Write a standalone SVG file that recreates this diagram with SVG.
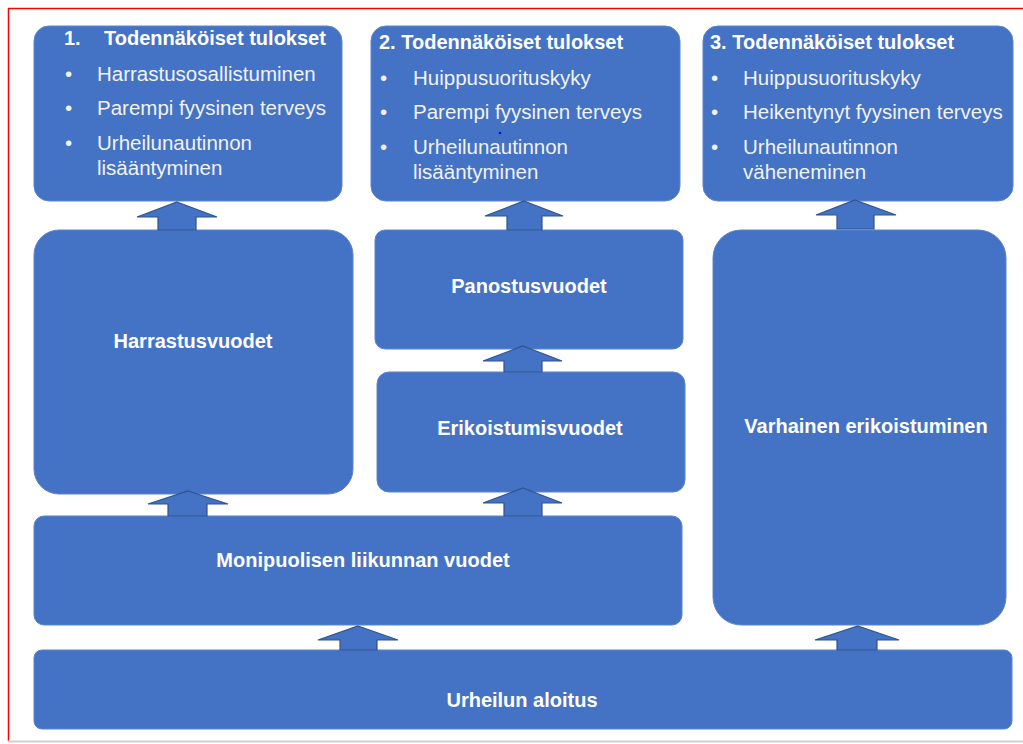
<svg xmlns="http://www.w3.org/2000/svg" width="1023" height="744" viewBox="0 0 1023 744">
<style>
.box{fill:#4472C4;stroke:#5B84CC;stroke-width:1}
.arr{fill:#4472C4;stroke:#2F528F;stroke-width:1.2;stroke-linejoin:miter}
.h{font-family:"Liberation Sans",Arial,sans-serif;font-weight:bold;font-size:20px;fill:#FFFFFF}
.t{font-family:"Liberation Sans",Arial,sans-serif;font-size:20.5px;fill:#F2F2F2}
.c{font-family:"Liberation Sans",Arial,sans-serif;font-weight:bold;font-size:20px;fill:#FFFFFF;text-anchor:middle}
</style>
<rect x="0" y="0" width="1023" height="744" fill="#FFFFFF"/>
<line x1="8" y1="8.5" x2="1023" y2="8.5" stroke="#FF0000" stroke-width="1.5"/>
<line x1="8.5" y1="8" x2="8.5" y2="741" stroke="#FF0000" stroke-width="1.5"/>
<line x1="8" y1="741.5" x2="1023" y2="741.5" stroke="#D0D0D0" stroke-width="2"/>

<g id="outcome1">
<rect class="box" x="34" y="26" width="308" height="175" rx="15"/>
<text class="h" x="64" y="45">1.</text>
<text class="h" x="104" y="45">Todennäköiset tulokset</text>
<text class="t" x="65" y="81">•</text><text class="t" x="97" y="81">Harrastusosallistuminen</text>
<text class="t" x="65" y="115">•</text><text class="t" x="97" y="115">Parempi fyysinen terveys</text>
<text class="t" x="65" y="150">•</text><text class="t" x="97" y="150">Urheilunautinnon</text>
<text class="t" x="97" y="175">lisääntyminen</text>
</g>

<g id="outcome2">
<rect class="box" x="371" y="26" width="309" height="175" rx="15"/>
<text class="h" x="379" y="49">2. Todennäköiset tulokset</text>
<text class="t" x="380" y="85">•</text><text class="t" x="413" y="85">Huippusuorituskyky</text>
<text class="t" x="380" y="119">•</text><text class="t" x="413" y="119">Parempi fyysinen terveys</text>
<text class="t" x="380" y="154">•</text><text class="t" x="413" y="154">Urheilunautinnon</text>
<text class="t" x="413" y="179">lisääntyminen</text>
<circle cx="500" cy="133" r="1.3" fill="#0000FF"/>
</g>

<g id="outcome3">
<rect class="box" x="703" y="26" width="310" height="175" rx="15"/>
<text class="h" x="710" y="49">3. Todennäköiset tulokset</text>
<text class="t" x="711" y="85">•</text><text class="t" x="743" y="85">Huippusuorituskyky</text>
<text class="t" x="711" y="119">•</text><text class="t" x="743" y="119">Heikentynyt fyysinen terveys</text>
<text class="t" x="711" y="154">•</text><text class="t" x="743" y="154">Urheilunautinnon</text>
<text class="t" x="743" y="179">väheneminen</text>
</g>

<g id="harrastusvuodet">
<rect class="box" x="34" y="230" width="319" height="264" rx="25"/>
<text class="c" x="193" y="348">Harrastusvuodet</text>
</g>

<g id="panostusvuodet">
<rect class="box" x="375" y="230" width="308" height="119" rx="10"/>
<text class="c" x="529" y="293">Panostusvuodet</text>
</g>

<g id="erikoistumisvuodet">
<rect class="box" x="377" y="372" width="308" height="120" rx="12"/>
<text class="c" x="530" y="435">Erikoistumisvuodet</text>
</g>

<g id="varhainen">
<rect class="box" x="713" y="230" width="293" height="395" rx="28"/>
<text class="c" x="866" y="433">Varhainen erikoistuminen</text>
</g>

<g id="monipuolisen">
<rect class="box" x="34" y="516" width="648" height="109" rx="10"/>
<text class="c" x="363" y="567">Monipuolisen liikunnan vuodet</text>
</g>

<g id="aloitus">
<rect class="box" x="34" y="650" width="978" height="79" rx="8"/>
<text class="c" x="522" y="707">Urheilun aloitus</text>
</g>

<g id="connectors">
<polygon class="arr" points="177,202 217,217 196,217 196,230 158,230 158,217 137,217"/>
<polygon class="arr" points="524,201 563,216 542,216 542,230 507,230 507,216 485,216"/>
<polygon class="arr" points="855,200 896,215 874,215 874,229 837,229 837,215 816,215"/>
<polygon class="arr" points="523,346 562,361 542,361 542,372 504,372 504,361 483,361"/>
<polygon class="arr" points="523,488 562,503 542,503 542,516 504,516 504,503 483,503"/>
<polygon class="arr" points="188,491 228,504 207,504 207,516 168,516 168,504 148,504"/>
<polygon class="arr" points="358,626 398,640 377,640 377,650 340,650 340,640 318,640"/>
<polygon class="arr" points="858,626 899,640 877,640 877,650 837,650 837,640 815,640"/>
</g>
</svg>
